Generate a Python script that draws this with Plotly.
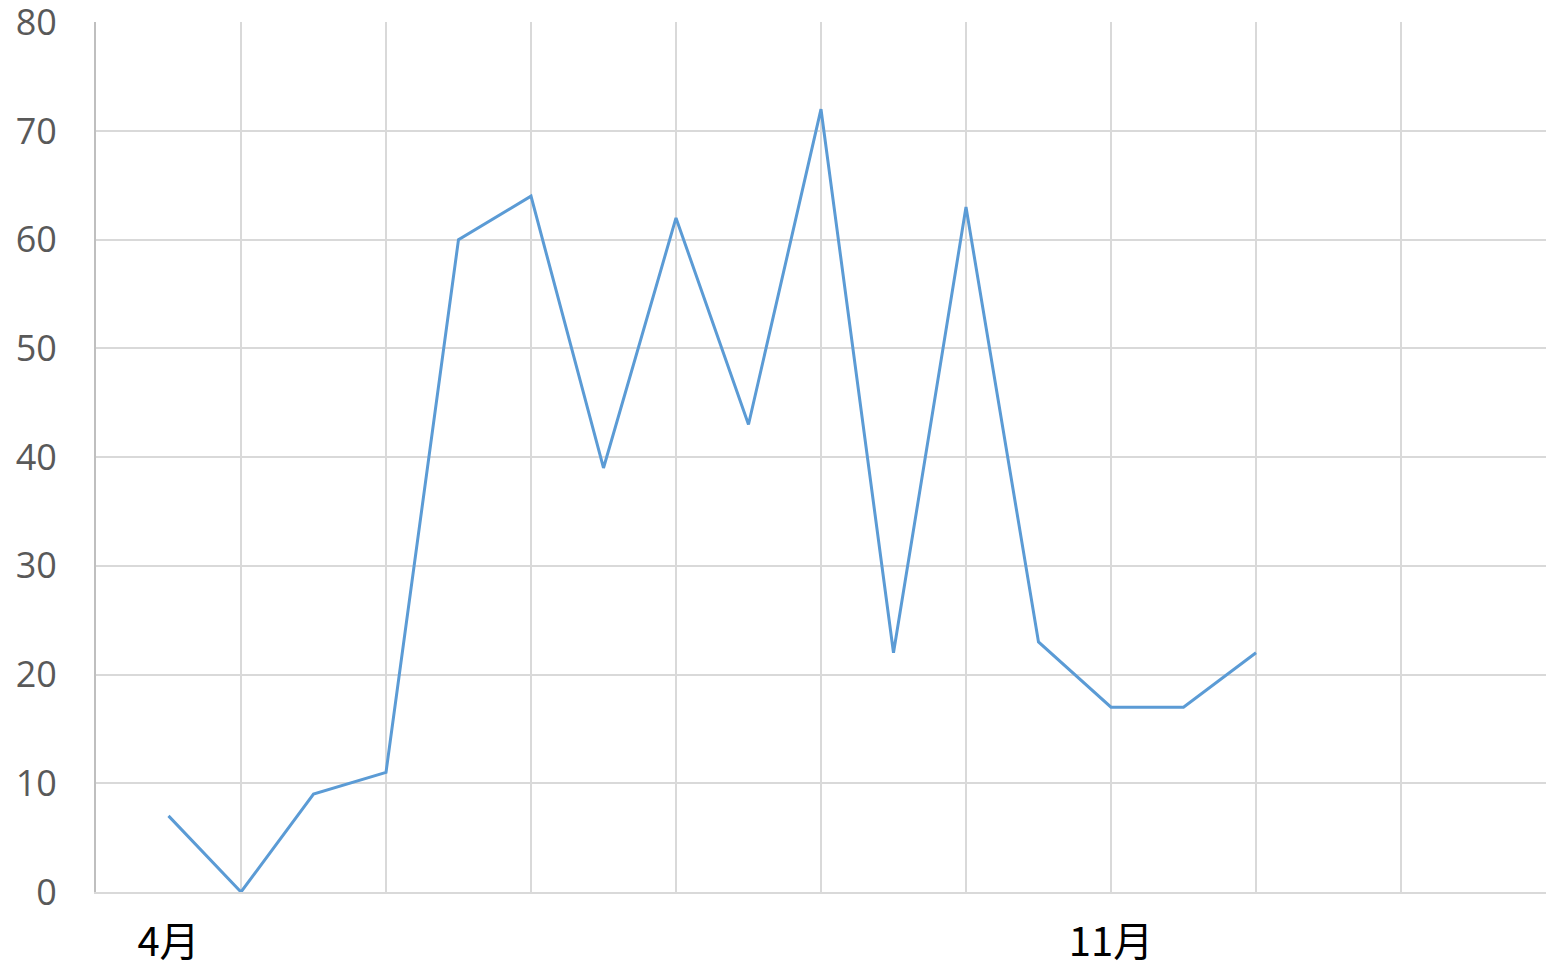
import plotly.graph_objects as go

# Data (category positions 0..15, two points per grid interval)
x_pos = list(range(16))
values = [7, 0, 9, 11, 60, 64, 39, 62, 43, 72, 22, 63, 23, 17, 17, 22]
tick_positions = [0, 13]
tick_labels = ["4月", "11月"]
grid_positions = [1, 3, 5, 7, 9, 11, 13, 15, 17]
y_ticks = [0, 10, 20, 30, 40, 50, 60, 70, 80]

fig = go.Figure()
fig.add_trace(go.Scatter(
    x=x_pos, y=values, mode="lines",
    line=dict(color="#5B9BD5", width=3),
    showlegend=False, hoverinfo="skip",
))

fig.update_layout(
    width=1546, height=969,
    margin=dict(l=96, r=0, t=22, b=77, autoexpand=False),
    paper_bgcolor="white", plot_bgcolor="white",
    xaxis=dict(
        range=[-1, 19], automargin=False,
        tickmode="array", tickvals=tick_positions, ticktext=tick_labels,
        showgrid=False, zeroline=False,
        showline=True, linecolor="#D9D9D9", linewidth=2,
        ticks="", ticklabelstandoff=14, ticklabeloverflow="allow",
        tickfont=dict(family="Noto Sans CJK JP", size=40, color="#000000"),
        minor=dict(tickvals=grid_positions, showgrid=True,
                   gridcolor="#D9D9D9", gridwidth=2, ticks=""),
    ),
    yaxis=dict(
        range=[0, 80.02], automargin=False,
        tickmode="array", tickvals=y_ticks,
        showgrid=True, gridcolor="#D9D9D9", gridwidth=2,
        zeroline=False,
        showline=True, linecolor="#BFBFBF", linewidth=2,
        ticks="", ticklabelstandoff=30, ticklabeloverflow="allow",
        tickfont=dict(family="Open Sans", size=36, color="#595959"),
    ),
)

fig.write_html(
    "out.html",
    config={"displayModeBar": False},
    post_script="document.body.style.margin='0';document.body.style.overflow='hidden';",
)
